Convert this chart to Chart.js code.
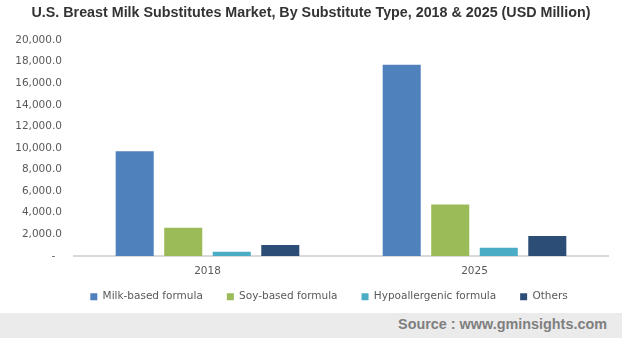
<!DOCTYPE html>
<html>
<head>
<meta charset="utf-8">
<script src="https://cdn.jsdelivr.net/npm/chart.js@4"></script>
<style>
  html, body { margin: 0; padding: 0; background: #fff; }
  #wrap { position: relative; width: 622px; height: 338px; overflow: hidden; }
  #titulo {
    position: absolute; left: 0; top: 4px; width: 622px; text-align: center;
    font: bold 14.3px "Liberation Sans", Arial, sans-serif; color: #333;
  }
  #grafico { position: absolute; left: 0; top: 0; }
  #fonte {
    position: absolute; left: 0; top: 313px; width: 622px; height: 25px;
    background: #ebebeb;
  }
  #fonte span {
    position: absolute; right: 15px; top: 3px;
    font: bold 14.4px "Liberation Sans", Arial, sans-serif; color: #7f7f7f;
  }
</style>
</head>
<body>
<div id="wrap">
  <canvas id="grafico" width="622" height="338"></canvas>
  <div id="titulo">U.S. Breast Milk Substitutes Market, By Substitute Type, 2018 &amp; 2025 (USD Million)</div>
  <div id="fonte"><span>Source : www.gminsights.com</span></div>
</div>
<script>
const anos = ["2018", "2025"];
const leiteBase = [9700, 17700];
const sojaBase = [2600, 4750];
const hipoalergenica = [380, 750];
const outros = [1000, 1850];
const ticksY = [0, 2000, 4000, 6000, 8000, 10000, 12000, 14000, 16000, 18000, 20000];

const fonteTexto = { family: "'DejaVu Sans', Verdana, sans-serif", size: 10.5 };

function rotuloY(valor) {
  if (valor === 0) return "-  ";
  return valor.toLocaleString("en-US", { minimumFractionDigits: 1, maximumFractionDigits: 1 });
}

function serie(nome, valores, cor) {
  return {
    label: nome,
    data: valores,
    backgroundColor: cor,
    borderWidth: 0,
    categoryPercentage: 0.727,
    barPercentage: 0.784
  };
}

// legenda um pouco acima e deslocada para a direita, como no layout original
const ajusteLegenda = {
  id: "ajusteLegenda",
  afterLayout(chart) {
    const legenda = chart.legend;
    legenda.left = 50;
    legenda.top -= 19;
  }
};

new Chart(document.getElementById("grafico"), {
  type: "bar",
  data: {
    labels: anos,
    datasets: [
      serie("Milk-based formula", leiteBase, "#4f81bd"),
      serie("Soy-based formula", sojaBase, "#9bbb59"),
      serie("Hypoallergenic formula", hipoalergenica, "#4bacc6"),
      serie("Others", outros, "#2c4d75")
    ]
  },
  plugins: [ajusteLegenda],
  options: {
    responsive: false,
    animation: false,
    layout: { padding: { top: 40, left: 0, right: 14, bottom: 7 } },
    plugins: {
      title: { display: false },
      tooltip: { enabled: false },
      legend: {
        position: "bottom",
        labels: {
          boxWidth: 7,
          boxHeight: 7,
          padding: 24,
          color: "#595959",
          font: fonteTexto
        }
      }
    },
    scales: {
      x: {
        grid: { display: false, drawTicks: false },
        border: { display: true, color: "#d9d9d9", width: 2 },
        ticks: { color: "#595959", font: fonteTexto, padding: 9 }
      },
      y: {
        min: 0,
        max: 20000,
        grid: { display: false, drawTicks: false },
        border: { display: false },
        afterBuildTicks: scale => { scale.ticks = ticksY.map(v => ({ value: v })); },
        ticks: { color: "#595959", font: fonteTexto, padding: 12, callback: rotuloY },
        afterFit: scale => { scale.width = 74; }
      }
    }
  }
});
</script>
</body>
</html>
